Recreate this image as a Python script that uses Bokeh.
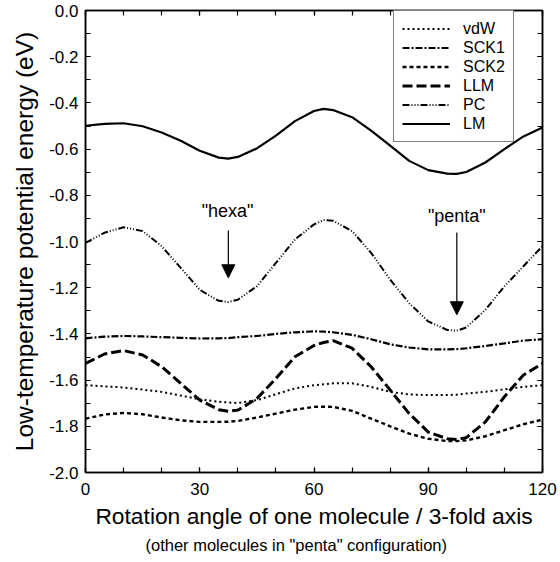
from bokeh.plotting import figure
from bokeh.models import (Range1d, LinearAxis, FixedTicker, Title, Label, Arrow,
                          NormalHead, CustomJSTickFormatter)
from bokeh.embed import file_html
from bokeh.resources import INLINE

# ---- data ----
angle = [0, 5, 10, 15, 20, 25, 30, 35, 37.5, 40, 45, 50, 55, 60, 62.5,
         65, 70, 75, 80, 85, 90, 95, 97.5, 100, 105, 110, 115, 120]

lm = [-0.499, -0.491, -0.488, -0.501, -0.528, -0.564, -0.607, -0.637, -0.641,
      -0.634, -0.597, -0.542, -0.479, -0.435, -0.426, -0.431, -0.462, -0.520,
      -0.585, -0.651, -0.691, -0.706, -0.707, -0.699, -0.658, -0.600, -0.545,
      -0.506]
pc = [-1.006, -0.962, -0.938, -0.955, -1.020, -1.114, -1.209, -1.257, -1.262,
      -1.252, -1.194, -1.093, -0.991, -0.926, -0.907, -0.910, -0.955, -1.049,
      -1.165, -1.267, -1.346, -1.383, -1.386, -1.372, -1.296, -1.194, -1.107,
      -1.020]
sck1 = [-1.419, -1.412, -1.409, -1.411, -1.414, -1.417, -1.420, -1.419, -1.418,
        -1.414, -1.409, -1.400, -1.393, -1.389, -1.390, -1.393, -1.404, -1.423,
        -1.445, -1.459, -1.467, -1.467, -1.466, -1.462, -1.452, -1.441, -1.429,
        -1.423]
llm = [-1.528, -1.487, -1.472, -1.491, -1.542, -1.614, -1.687, -1.728, -1.735,
       -1.730, -1.680, -1.593, -1.499, -1.450, -1.437, -1.429, -1.462, -1.542,
       -1.643, -1.745, -1.825, -1.854, -1.857, -1.849, -1.781, -1.672, -1.578,
       -1.528]
vdw = [-1.622, -1.627, -1.632, -1.641, -1.651, -1.667, -1.683, -1.694, -1.697,
       -1.699, -1.687, -1.661, -1.636, -1.622, -1.618, -1.614, -1.614, -1.629,
       -1.651, -1.662, -1.665, -1.665, -1.663, -1.658, -1.651, -1.640, -1.629,
       -1.622]
sck2 = [-1.767, -1.749, -1.742, -1.748, -1.762, -1.774, -1.781, -1.781, -1.780,
        -1.777, -1.762, -1.745, -1.728, -1.716, -1.715, -1.716, -1.733, -1.767,
        -1.800, -1.832, -1.854, -1.864, -1.864, -1.861, -1.843, -1.817, -1.791,
        -1.771]

x_major = [0, 30, 60, 90, 120]
x_minor = [0, 10, 20, 30, 40, 50, 60, 70, 80, 90, 100, 110, 120]
y_major = [-2.0, -1.8, -1.6, -1.4, -1.2, -1.0, -0.8, -0.6, -0.4, -0.2, 0.0]
y_minor = [-2.0, -1.9, -1.8, -1.7, -1.6, -1.5, -1.4, -1.3, -1.2, -1.1, -1.0,
           -0.9, -0.8, -0.7, -0.6, -0.5, -0.4, -0.3, -0.2, -0.1, 0.0]

FONT = "Liberation Sans"

p = figure(width=560, height=562, output_backend="svg", toolbar_location=None,
           x_range=Range1d(0, 120), y_range=Range1d(-2.0, 0.0),
           min_border_left=85, min_border_right=18, min_border_top=10,
           min_border_bottom=90, background_fill_color="white",
           border_fill_color="white")
p.grid.visible = False
p.outline_line_color = "black"
p.outline_line_width = 1.5

xt = FixedTicker(ticks=x_major, minor_ticks=x_minor)
yt = FixedTicker(ticks=y_major, minor_ticks=y_minor)


def style_axis(ax, labels=True):
    ax.axis_line_color = "black"
    ax.axis_line_width = 1.5
    ax.major_tick_in = 5
    ax.major_tick_out = 0
    ax.minor_tick_in = 5
    ax.minor_tick_out = 0
    ax.major_tick_line_width = 1.2
    ax.minor_tick_line_width = 1.2
    ax.major_label_text_font = FONT
    ax.major_label_text_color = "black"
    ax.major_label_text_font_size = "17px"
    if labels:
        ax.major_label_standoff = 7
    else:
        ax.formatter = CustomJSTickFormatter(code="return '';")
        ax.major_label_standoff = 0


p.xaxis.ticker = xt
p.yaxis.ticker = yt
style_axis(p.xaxis[0])
style_axis(p.yaxis[0])
p.xaxis.major_label_standoff = 10
p.yaxis.formatter = CustomJSTickFormatter(code="return tick.toFixed(1);")
p.xaxis.axis_label = "Rotation angle of one molecule / 3-fold axis"
p.yaxis.axis_label = "Low-temperature potential energy (eV)"
for ax in (p.xaxis[0], p.yaxis[0]):
    ax.axis_label_text_font = FONT
    ax.axis_label_text_font_style = "normal"
    ax.axis_label_text_color = "black"
p.xaxis.axis_label_text_font_size = "22.8px"
p.xaxis.axis_label_standoff = 5
p.yaxis.axis_label_text_font_size = "24.5px"
p.yaxis.axis_label_standoff = 8

top_ax = LinearAxis(ticker=xt)
style_axis(top_ax, labels=False)
p.add_layout(top_ax, "above")
right_ax = LinearAxis(ticker=yt)
style_axis(right_ax, labels=False)
p.add_layout(right_ax, "right")

sub = Title(text='(other molecules in "penta" configuration)', align="left",
            text_font=FONT, text_font_size="16.5px", text_font_style="normal",
            text_color="black", offset=60, standoff=4)
p.add_layout(sub, "below")

# ---- curves ----
p.line(angle, vdw, line_color="black", line_width=2, line_dash="2 3",
       legend_label="vdW")
p.line(angle, sck1, line_color="black", line_width=2.2, line_dash="7 2 2 2",
       legend_label="SCK1")
p.line(angle, sck2, line_color="black", line_width=2.4, line_dash="4 3",
       legend_label="SCK2")
p.line(angle, llm, line_color="black", line_width=3, line_dash="10 4",
       legend_label="LLM")
p.line(angle, pc, line_color="black", line_width=2, line_dash="7 2 1 2 1 2 1 2",
       legend_label="PC")
p.line(angle, lm, line_color="black", line_width=2.2, legend_label="LM")

lg = p.legend[0]
lg.location = (308, 330)
lg.border_line_color = "black"
lg.border_line_width = 1.5
lg.background_fill_color = "white"
lg.background_fill_alpha = 1.0
lg.padding = 8
lg.margin = 0
lg.spacing = 0
lg.glyph_width = 48
lg.glyph_height = 19
lg.label_height = 19
lg.label_standoff = 13
lg.label_text_font = FONT
lg.label_text_font_size = "16px"
lg.label_text_color = "black"

# ---- annotations ----
p.add_layout(Label(x=37.3, y=-0.868, text='"hexa"', text_align="center",
                   text_baseline="middle", text_font=FONT,
                   text_font_size="18px", text_color="black"))
p.add_layout(Label(x=97.5, y=-0.890, text='"penta"', text_align="center",
                   text_baseline="middle", text_font=FONT,
                   text_font_size="18px", text_color="black"))
p.add_layout(Arrow(end=NormalHead(size=13, fill_color="black",
                                  line_color="black"),
                   x_start=37.5, y_start=-0.952, x_end=37.5, y_end=-1.157,
                   line_color="black", line_width=1.2))
p.add_layout(Arrow(end=NormalHead(size=13, fill_color="black",
                                  line_color="black"),
                   x_start=97.5, y_start=-0.961, x_end=97.5, y_end=-1.317,
                   line_color="black", line_width=1.2))

open("out.html", "w").write(file_html(p, INLINE))
